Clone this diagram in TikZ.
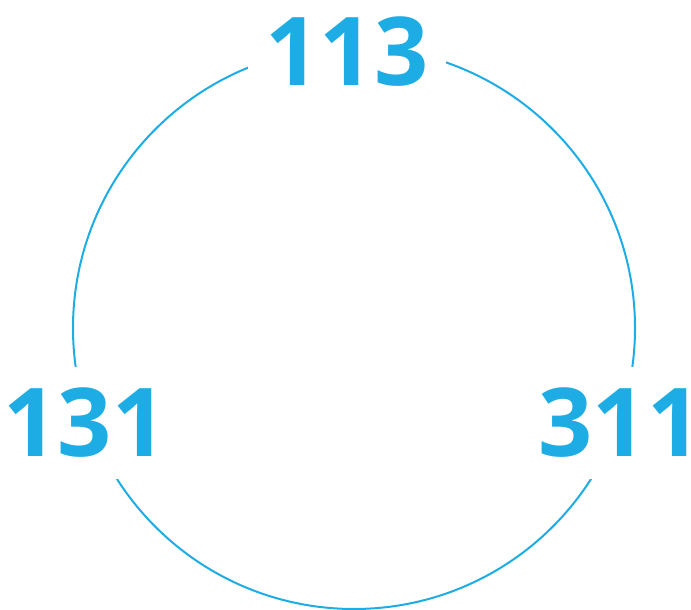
\documentclass[tikz,border=0pt]{standalone}
\usepackage{fontspec}
\setmainfont{Open Sans}
\usepackage{tikz}
\usetikzlibrary{positioning}
\usepackage{xcolor}
\definecolor{cyanblue}{HTML}{1DADE4}

\begin{document}
\begin{tikzpicture}[x=1pt, y=1pt,
			ring/.style={draw=cyanblue, line width=2pt},
			num/.style={fill=white, text=cyanblue, inner xsep=18pt, inner ysep=21pt, font=\fontsize{95}{95}\selectfont\bfseries}
		]
		\useasboundingbox (0,0) rectangle (691,610);
		\coordinate (center) at (354,282);
		\draw[ring] (center) circle (281);

		\node[num] (top) at (347,558) {113};
		\node[num] (left) at (85,187) {131};
		\node[num] (right) at (620,187) {311};
	\end{tikzpicture}
\end{document}
